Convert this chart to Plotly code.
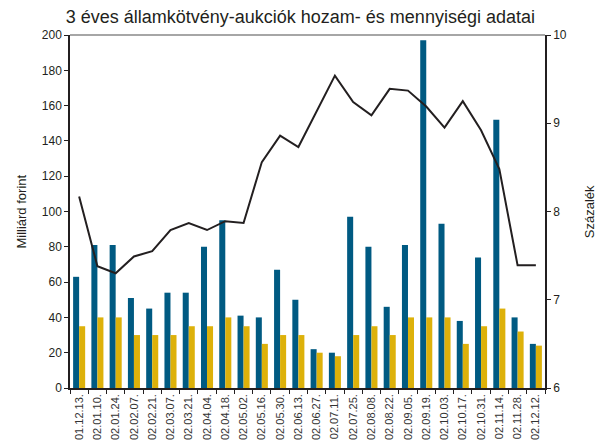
import plotly.graph_objects as go

dates = ["01.12.13.", "02.01.10.", "02.01.24.", "02.02.07.", "02.02.21.", "02.03.07.",
         "02.03.21.", "02.04.04.", "02.04.18.", "02.05.02.", "02.05.16.", "02.05.30.",
         "02.06.13.", "02.06.27.", "02.07.11.", "02.07.25.", "02.08.08.", "02.08.22.",
         "02.09.05.", "02.09.19.", "02.10.03.", "02.10.17.", "02.10.31.", "02.11.14.",
         "02.11.28.", "02.12.12."]
offered = [63, 81, 81, 51, 45, 54, 54, 80, 95, 41, 40, 67, 50, 22, 20, 97, 80, 46,
           81, 197, 93, 38, 74, 152, 40, 25]
accepted = [35, 40, 40, 30, 30, 30, 35, 35, 40, 35, 25, 30, 30, 20, 18, 30, 35, 30,
            40, 40, 40, 25, 35, 45, 32, 24]
yield_pct = [8.17, 7.38, 7.30, 7.49, 7.55, 7.79, 7.87, 7.79, 7.89, 7.87, 8.56, 8.86,
             8.73, 9.14, 9.54, 9.24, 9.09, 9.39, 9.37, 9.19, 8.95, 9.25, 8.92, 8.48,
             7.39, 7.39]

FONT = "Liberation Sans Narrow, Liberation Sans, Arial, sans-serif"
TXT = "#231F20"

fig = go.Figure()
fig.add_trace(go.Bar(x=dates, y=offered, marker_color="#005A82", marker_line_width=0,
                     name="Benyújtott"))
fig.add_trace(go.Bar(x=dates, y=accepted, marker_color="#DDB10A", marker_line_width=0,
                     name="Elfogadott"))
fig.add_trace(go.Scatter(x=dates, y=yield_pct, yaxis="y2", mode="lines",
                         line=dict(color=TXT, width=2), name="Hozam"))

fig.update_layout(
    width=603, height=446,
    margin=dict(l=70, r=58, t=35, b=58, autoexpand=False),
    paper_bgcolor="white", plot_bgcolor="white",
    showlegend=False,
    barmode="group", bargap=0.34, bargroupgap=0,
    font=dict(family=FONT, size=12, color=TXT),
    title=dict(text="3 éves államkötvény-aukciók hozam- és mennyiségi adatai",
               x=0.109, xref="container", xanchor="left", y=0.962, yref="container",
               yanchor="middle", font=dict(family=FONT, size=18, color=TXT)),
    xaxis=dict(type="category", tickangle=-90, showline=True, linecolor=TXT,
               linewidth=1.5, ticks="outside", ticklen=4, tickcolor=TXT,
               tickson="boundaries", showgrid=False, automargin=False,
               tickfont=dict(size=11, color="#333333")),
    yaxis=dict(range=[0, 200], dtick=20, showline=True, linecolor=TXT,
               linewidth=1.5, ticks="outside", ticklen=4, tickcolor=TXT,
               showgrid=False, zeroline=False, automargin=False,
               tickfont=dict(size=12)),
    yaxis2=dict(range=[6, 10], dtick=1, overlaying="y", side="right", showline=True,
                linecolor=TXT, linewidth=1.5, ticks="outside", ticklen=4,
                tickcolor=TXT, showgrid=False, zeroline=False, automargin=False,
                tickfont=dict(size=12)),
    shapes=[dict(type="line", xref="paper", yref="paper", x0=0, x1=1, y0=1, y1=1,
                 line=dict(color="#888888", width=1.5))],
    annotations=[
        dict(text="Milliárd forint", textangle=-90, xref="paper", yref="paper",
             x=-0.103, y=0.5, xanchor="center", yanchor="middle", showarrow=False,
             font=dict(size=13, color=TXT)),
        dict(text="Százalék", textangle=-90, xref="paper", yref="paper",
             x=1.094, y=0.5, xanchor="center", yanchor="middle", showarrow=False,
             font=dict(size=13, color=TXT)),
    ],
)

fig.write_html("out.html", config={"displayModeBar": False},
               post_script="document.body.style.margin='0';document.body.style.padding='0';")
